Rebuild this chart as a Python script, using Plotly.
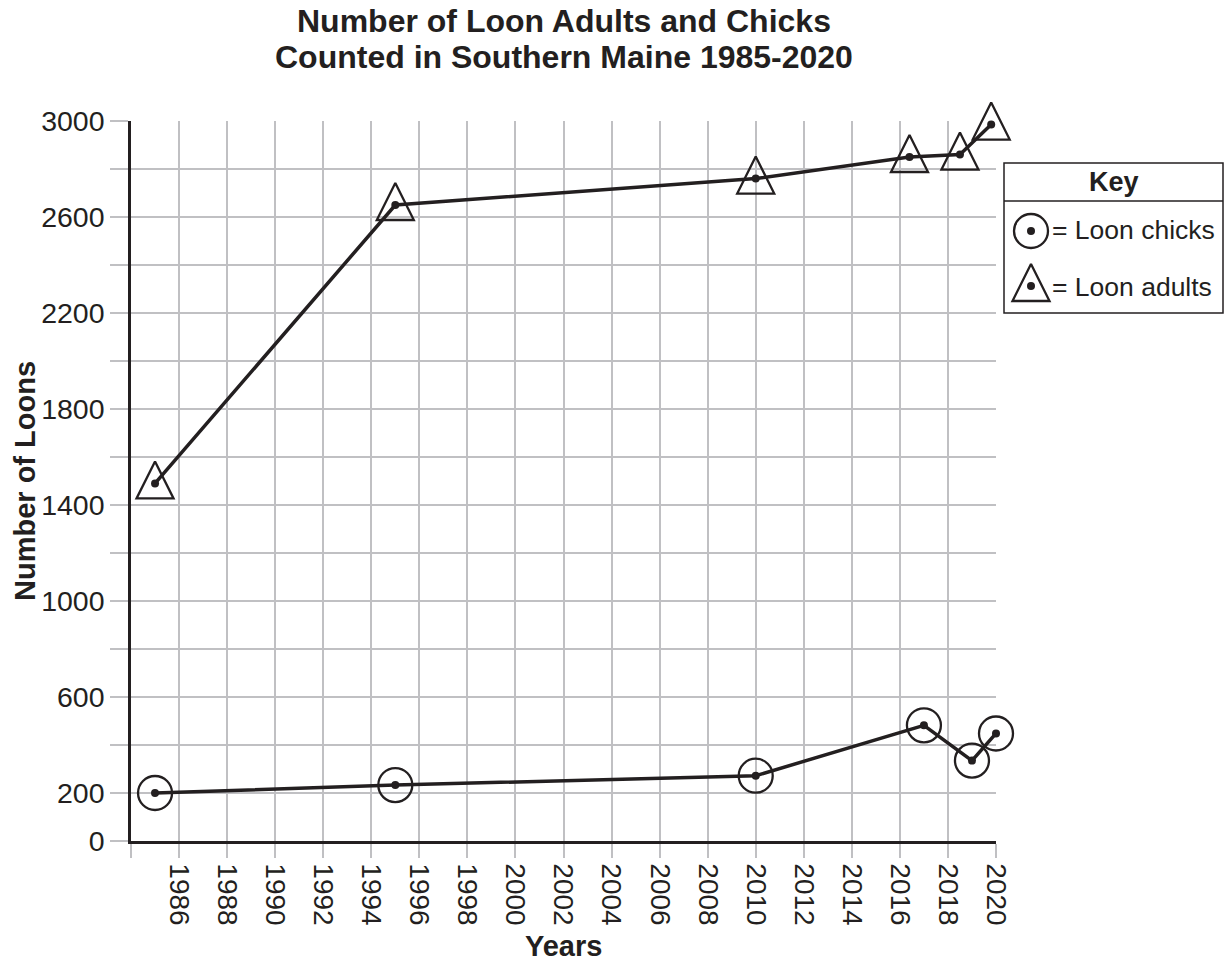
import plotly.graph_objects as go

# Survey data
adult_years = [1985, 1995, 2010, 2016.4, 2018.5, 2019.8]
adult_counts = [1490, 2650, 2760, 2850, 2860, 2985]
chick_years = [1985, 1995, 2010, 2017, 2019, 2020]
chick_counts = [200, 233, 272, 482, 335, 448]

x_ticks = list(range(1984, 2021, 2))
x_labels = ["" if v == 1984 else str(v) for v in x_ticks]
y_ticks = list(range(0, 3001, 200))
y_labels = [str(v) if (v == 0 or (v - 200) % 400 == 0) else "" for v in y_ticks]

INK = "#231f20"
GRID = "#c0c0c3"
FONT = "Liberation Sans, Arial, sans-serif"

W, H = 1227, 965
L, R, T, B = 131, 2, 121, 124
PW, PH = W - L - R, H - T - B
PLOT_RIGHT = 996
LEG_L, LEG_R, LEG_T, LEG_B = 1004, 1223, 163, 313


def fx(px):
    return (px - L) / PW


def fy(py):
    return (H - B - py) / PH


fig = go.Figure()

# connecting lines with centre dots
for xs, ys in ((adult_years, adult_counts), (chick_years, chick_counts)):
    fig.add_trace(go.Scatter(
        x=xs, y=ys, mode="lines+markers", cliponaxis=False,
        line=dict(color=INK, width=3.5),
        marker=dict(color=INK, size=8, symbol="circle"),
        showlegend=False, hoverinfo="skip",
    ))

CIRCLE = dict(symbol="circle-open", size=34, color=INK,
              line=dict(width=2.3, color=INK))
TRIANGLE = dict(symbol="arrow-down-open", size=37, angle=180, standoff=22,
                color=INK, line=dict(width=2.3, color=INK))

# open outline symbols around each dot
fig.add_trace(go.Scatter(
    x=chick_years, y=chick_counts, mode="markers", cliponaxis=False,
    marker=CIRCLE, showlegend=False, hoverinfo="skip",
))
fig.add_trace(go.Scatter(
    x=adult_years, y=adult_counts, mode="markers", cliponaxis=False,
    marker=TRIANGLE, showlegend=False, hoverinfo="skip",
))

# key symbols, drawn on a small pixel-scaled axis pair
key_x = [1031, 1031]
key_y = [231, 286]
fig.add_trace(go.Scatter(
    x=key_x, y=key_y, mode="markers", xaxis="x2", yaxis="y2", cliponaxis=False,
    marker=dict(color=INK, size=8), showlegend=False, hoverinfo="skip",
))
fig.add_trace(go.Scatter(
    x=key_x[:1], y=key_y[:1], mode="markers", xaxis="x2", yaxis="y2",
    cliponaxis=False, marker=CIRCLE, showlegend=False, hoverinfo="skip",
))
fig.add_trace(go.Scatter(
    x=key_x[1:], y=key_y[1:], mode="markers", xaxis="x2", yaxis="y2",
    cliponaxis=False, marker=TRIANGLE, showlegend=False, hoverinfo="skip",
))

fig.update_layout(
    width=W, height=H,
    margin=dict(l=L, r=R, t=T, b=B, autoexpand=False),
    paper_bgcolor="white", plot_bgcolor="white",
    font=dict(family=FONT, color=INK, size=27),
    xaxis=dict(
        domain=[0, fx(PLOT_RIGHT)], range=[1984, 2020],
        tickmode="array", tickvals=x_ticks, ticktext=x_labels,
        tickangle=90, tickfont=dict(size=28),
        showgrid=True, gridcolor=GRID, gridwidth=2,
        ticks="outside", ticklen=14, tickwidth=2, tickcolor=GRID,
        showline=True, linecolor=INK, linewidth=2.5,
        zeroline=False, fixedrange=True,
    ),
    yaxis=dict(
        range=[0, 3000],
        tickmode="array", tickvals=y_ticks, ticktext=y_labels,
        tickfont=dict(size=28.5),
        showgrid=True, gridcolor=GRID, gridwidth=2,
        ticks="outside", ticklen=18, tickwidth=2, tickcolor=GRID,
        showline=True, linecolor=INK, linewidth=2.5,
        zeroline=False, fixedrange=True,
    ),
    xaxis2=dict(domain=[fx(LEG_L), fx(LEG_R)], range=[LEG_L, LEG_R],
                visible=False, anchor="y2", fixedrange=True),
    yaxis2=dict(domain=[fy(LEG_B), fy(LEG_T)], range=[LEG_B, LEG_T],
                visible=False, anchor="x2", fixedrange=True),
    shapes=[
        dict(type="rect", xref="paper", yref="paper",
             x0=fx(LEG_L), x1=fx(LEG_R), y0=fy(LEG_B), y1=fy(LEG_T),
             line=dict(color=INK, width=1.5), fillcolor="rgba(0,0,0,0)"),
        dict(type="line", xref="paper", yref="paper",
             x0=fx(LEG_L), x1=fx(LEG_R), y0=fy(201), y1=fy(201),
             line=dict(color=INK, width=1.5)),
    ],
    annotations=[
        dict(text="<b>Number of Loon Adults and Chicks</b>", xref="paper",
             yref="paper", x=fx((L + PLOT_RIGHT) / 2), y=fy(21),
             showarrow=False, xanchor="center", yanchor="middle",
             font=dict(size=32)),
        dict(text="<b>Counted in Southern Maine 1985-2020</b>", xref="paper",
             yref="paper", x=fx((L + PLOT_RIGHT) / 2), y=fy(57),
             showarrow=False, xanchor="center", yanchor="middle",
             font=dict(size=32)),
        dict(text="<b>Key</b>", xref="paper", yref="paper",
             x=fx((LEG_L + LEG_R) / 2), y=fy(182), showarrow=False,
             xanchor="center", yanchor="middle", font=dict(size=27)),
        dict(text="= Loon chicks", xref="paper", yref="paper",
             x=fx(1050), y=fy(230), showarrow=False,
             xanchor="left", yanchor="middle", font=dict(size=26.5)),
        dict(text="= Loon adults", xref="paper", yref="paper",
             x=fx(1050), y=fy(287), showarrow=False,
             xanchor="left", yanchor="middle", font=dict(size=26.5)),
        dict(text="<b>Number of Loons</b>", xref="paper", yref="paper",
             x=fx(25), y=fy(481), textangle=-90, showarrow=False,
             xanchor="center", yanchor="middle", font=dict(size=29)),
        dict(text="<b>Years</b>", xref="paper", yref="paper",
             x=fx(563), y=fy(946), showarrow=False,
             xanchor="center", yanchor="middle", font=dict(size=29)),
    ],
)

fig.write_html("out.html")
